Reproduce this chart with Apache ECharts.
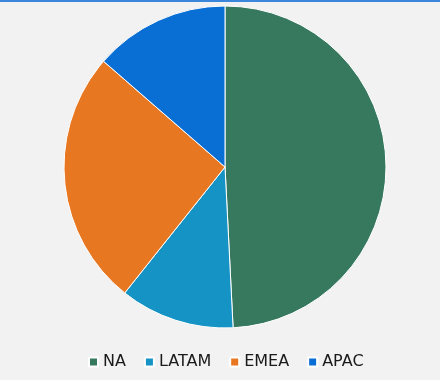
<!DOCTYPE html>
<html>
<head>
<meta charset="utf-8">
<style>
  html, body { margin: 0; padding: 0; background: #f2f2f2; }
  #topline { position: absolute; left: 0; top: 0; width: 440px; height: 2px; background: #3b87dc; z-index: 2; }
  #chart { width: 440px; height: 380px; }
</style>
<script src="https://cdn.jsdelivr.net/npm/echarts@6/dist/echarts.min.js"></script>
</head>
<body>
<div id="topline"></div>
<div id="chart"></div>
<script>
// Regional share of revenue (%)
const regions = ['NA', 'LATAM', 'EMEA', 'APAC'];
const shares = [49.2, 11.5, 25.7, 13.6];
const colors = ['#37795f', '#1593c5', '#e87722', '#0a6fd4'];

const chart = echarts.init(document.getElementById('chart'), null, { renderer: 'canvas' });
chart.setOption({
  backgroundColor: '#f2f2f2',
  animation: false,
  color: colors,
  legend: {
    top: 354,
    left: 88,
    padding: 0,
    icon: 'rect',
    itemWidth: 9,
    itemHeight: 9,
    itemGap: 18,
    textStyle: {
      fontFamily: 'DejaVu Sans, sans-serif',
      fontSize: 16,
      color: '#1a1a1a'
    },
    data: regions
  },
  series: [{
    type: 'pie',
    center: [225, 167],
    radius: [0, 161],
    startAngle: 90,
    clockwise: true,
    label: { show: false },
    labelLine: { show: false },
    itemStyle: { borderColor: '#ffffff', borderWidth: 1 },
    data: regions.map((name, i) => ({ name, value: shares[i] }))
  }]
});
</script>
</body>
</html>
